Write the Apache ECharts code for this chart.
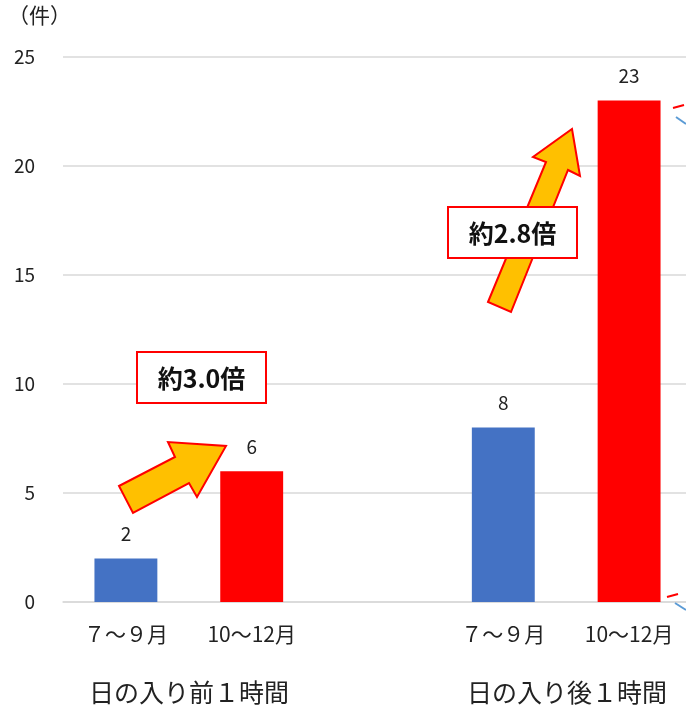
<!DOCTYPE html>
<html><head><meta charset="utf-8">
<script src="https://cdn.jsdelivr.net/npm/echarts@6/dist/echarts.min.js"></script>
<style>html,body{margin:0;padding:0;background:#fff;overflow:hidden}#c{width:700px;height:709px}</style>
</head><body><div id="c"></div>
<script>
const categories = ['７～９月', '10～12月', '', '７～９月', '10～12月'];
const values = [2, 6, null, 8, 23];
const barColors = ['#4472C4', '#FF0000', '#FF0000', '#4472C4', '#FF0000'];
const groupLabels = ['日の入り前１時間', '日の入り後１時間'];
const ratioLabels = ['約3.0倍', '約2.8倍'];
const yTicks = {min: 0, max: 25, interval: 5};

const FONT = '"Noto Sans CJK JP", "Noto Sans", sans-serif';
const chart = echarts.init(document.getElementById('c'));

function arrow(points) {
  return {type: 'polygon', z: 10, shape: {points: points}, style: {fill: '#FFC000', stroke: '#FF0000', lineWidth: 2}};
}
function box(x, y, w, h, text) {
  return [
    {type: 'rect', z: 20, shape: {x: x, y: y, width: w, height: h}, style: {fill: '#fff', stroke: '#FF0000', lineWidth: 2}},
    {type: 'text', z: 21, style: {x: x + w / 2, y: y + h / 2 + 1, text: text, fill: '#111', font: 'bold 25px ' + FONT, align: 'center', verticalAlign: 'middle'}}
  ];
}

chart.setOption({
  animation: false,
  grid: {left: 63, top: 57, width: 629, bottom: 107, containLabel: false},
  xAxis: {
    type: 'category', data: categories,
    axisLine: {lineStyle: {color: '#D9D9D9', width: 1.5}},
    axisTick: {show: false},
    axisLabel: {color: '#222', fontSize: 21, fontFamily: FONT, margin: 22, interval: 0}
  },
  yAxis: {
    type: 'value', min: yTicks.min, max: yTicks.max, interval: yTicks.interval,
    axisLine: {show: false}, axisTick: {show: false},
    axisLabel: {color: '#222', fontSize: 19, fontFamily: FONT, margin: 28},
    splitLine: {lineStyle: {color: '#D9D9D9', width: 1.5}}
  },
  series: [{
    type: 'bar', barWidth: '50%',
    data: values.map((v, i) => ({value: v, itemStyle: {color: barColors[i]}})),
    label: {show: true, position: 'top', distance: 15, color: '#222', fontSize: 19, fontFamily: FONT}
  }],
  graphic: [
    {type: 'text', left: 8, top: 5, style: {text: '（件）', fill: '#222', font: '21px ' + FONT}},
    {type: 'text', style: {x: 189, y: 692, text: groupLabels[0], fill: '#222', font: '25px ' + FONT, align: 'center', verticalAlign: 'middle'}},
    {type: 'text', style: {x: 567, y: 692, text: groupLabels[1], fill: '#222', font: '25px ' + FONT, align: 'center', verticalAlign: 'middle'}},
    arrow([[119,486],[175,457],[168,442],[226,446],[197,497],[189,483],[133,513]]),
    arrow([[488,302],[546,162],[533,157],[572,129],[580,176],[568,170],[511,312]]),
    ...box(137, 352, 129, 51, ratioLabels[0]),
    ...box(448, 207, 129, 51, ratioLabels[1]),
    {type: 'line', z: 5, shape: {x1: 673, y1: 108, x2: 684, y2: 105}, style: {stroke: '#FF0000', lineWidth: 2}},
    {type: 'line', z: 5, shape: {x1: 676, y1: 117, x2: 686, y2: 124}, style: {stroke: '#5B9BD5', lineWidth: 2}},
    {type: 'line', z: 5, shape: {x1: 667, y1: 597, x2: 678, y2: 594}, style: {stroke: '#FF0000', lineWidth: 2}},
    {type: 'line', z: 5, shape: {x1: 675, y1: 603, x2: 686, y2: 610}, style: {stroke: '#5B9BD5', lineWidth: 2}}
  ]
});
</script></body></html>
